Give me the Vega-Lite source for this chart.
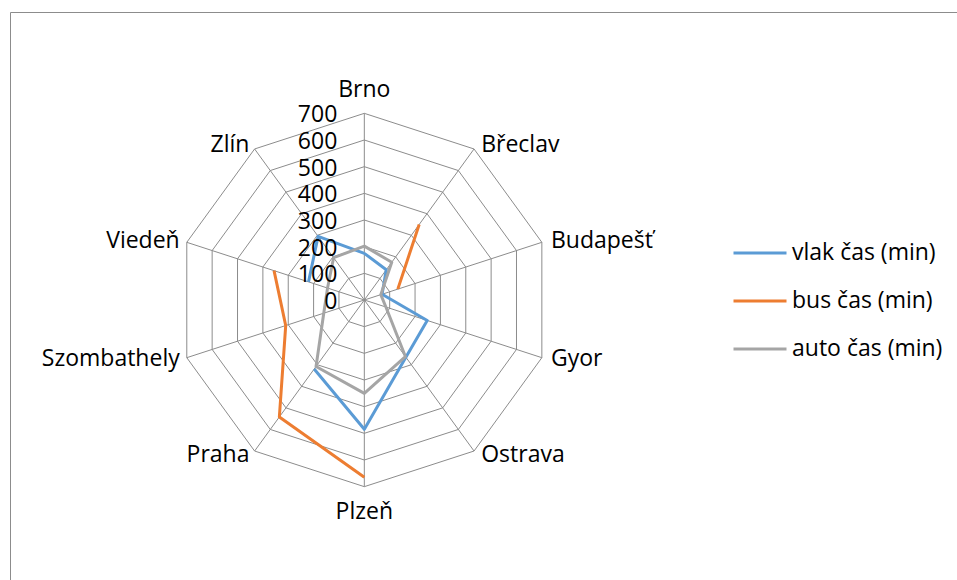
{
  "$schema": "https://vega.github.io/schema/vega-lite/v6.json",
  "width": 949,
  "height": 570,
  "autosize": {"type": "none"},
  "padding": {"left": 10, "top": 12, "right": -2, "bottom": -2},
  "config": {
    "view": {"stroke": "#8c8c8c", "strokeWidth": 1},
    "font": "Open Sans",
    "text": {"font": "Open Sans", "fontSize": 23, "color": "#000000"}
  },
  "datasets": {
    "times": [
      {"city": "Brno", "vlak čas (min)": 175, "bus čas (min)": null, "auto čas (min)": 202},
      {"city": "Břeclav", "vlak čas (min)": 140, "bus čas (min)": 350, "auto čas (min)": 175},
      {"city": "Budapešť", "vlak čas (min)": 70, "bus čas (min)": 132, "auto čas (min)": 65},
      {"city": "Gyor", "vlak čas (min)": 248, "bus čas (min)": null, "auto čas (min)": 85},
      {"city": "Ostrava", "vlak čas (min)": 265, "bus čas (min)": null, "auto čas (min)": 262},
      {"city": "Plzeň", "vlak čas (min)": 485, "bus čas (min)": 665, "auto čas (min)": 350},
      {"city": "Praha", "vlak čas (min)": 320, "bus čas (min)": 542, "auto čas (min)": 308},
      {"city": "Szombathely", "vlak čas (min)": null, "bus čas (min)": 310, "auto čas (min)": 160},
      {"city": "Viedeň", "vlak čas (min)": 220, "bus čas (min)": 356, "auto čas (min)": 145},
      {"city": "Zlín", "vlak čas (min)": 295, "bus čas (min)": null, "auto čas (min)": 196}
    ],
    "ticks": [
      {"level": 0}, {"level": 100}, {"level": 200}, {"level": 300},
      {"level": 400}, {"level": 500}, {"level": 600}, {"level": 700}
    ]
  },
  "layer": [
    {
      "data": {"name": "ticks"},
      "transform": [
        {"filter": "datum.level > 0"},
        {"calculate": "[0,1,2,3,4,5,6,7,8,9,10]", "as": "ks"},
        {"flatten": ["ks"], "as": ["k"]},
        {"calculate": "datum.level * sin(datum.k * PI / 5)", "as": "gx"},
        {"calculate": "datum.level * cos(datum.k * PI / 5)", "as": "gy"}
      ],
      "mark": {"type": "line", "color": "#8c8c8c", "strokeWidth": 1},
      "encoding": {
        "x": {"field": "gx", "type": "quantitative", "scale": {"domain": [-1328.7, 2230.0], "nice": false, "zero": false}, "axis": null},
        "y": {"field": "gy", "type": "quantitative", "scale": {"domain": [-1057.5, 1080], "nice": false, "zero": false}, "axis": null},
        "detail": {"field": "level"},
        "order": {"field": "k", "type": "quantitative"}
      }
    },
    {
      "data": {"name": "times"},
      "transform": [
        {"calculate": "indexof(['Brno','Břeclav','Budapešť','Gyor','Ostrava','Plzeň','Praha','Szombathely','Viedeň','Zlín'], datum.city) * PI / 5", "as": "ang"},
        {"calculate": "0", "as": "z"},
        {"calculate": "700 * sin(datum.ang)", "as": "sx"},
        {"calculate": "700 * cos(datum.ang)", "as": "sy"}
      ],
      "mark": {"type": "rule", "color": "#8c8c8c", "strokeWidth": 1},
      "encoding": {
        "x": {"field": "z", "type": "quantitative", "scale": {"domain": [-1328.7, 2230.0], "nice": false, "zero": false}, "axis": null},
        "y": {"field": "z", "type": "quantitative", "scale": {"domain": [-1057.5, 1080], "nice": false, "zero": false}, "axis": null},
        "x2": {"field": "sx"},
        "y2": {"field": "sy"}
      }
    },
    {
      "data": {"name": "times"},
      "transform": [
        {"fold": ["vlak čas (min)", "bus čas (min)", "auto čas (min)"], "as": ["series", "value"]},
        {"calculate": "indexof(['Brno','Břeclav','Budapešť','Gyor','Ostrava','Plzeň','Praha','Szombathely','Viedeň','Zlín'], datum.city)", "as": "idx"},
        {"calculate": "datum.idx === 0 ? [0, 10] : [datum.idx]", "as": "ks"},
        {"flatten": ["ks"], "as": ["k"]},
        {"calculate": "isValid(datum.value) ? datum.value * sin(datum.k * PI / 5) : null", "as": "px"},
        {"calculate": "isValid(datum.value) ? datum.value * cos(datum.k * PI / 5) : null", "as": "py"}
      ],
      "mark": {"type": "line", "strokeWidth": 3, "invalid": "break-paths-show-domains", "strokeJoin": "round"},
      "encoding": {
        "x": {"field": "px", "type": "quantitative", "scale": {"domain": [-1328.7, 2230.0], "nice": false, "zero": false}, "axis": null},
        "y": {"field": "py", "type": "quantitative", "scale": {"domain": [-1057.5, 1080], "nice": false, "zero": false}, "axis": null},
        "order": {"field": "k", "type": "quantitative"},
        "color": {
          "field": "series",
          "type": "nominal",
          "scale": {"domain": ["vlak čas (min)", "bus čas (min)", "auto čas (min)"], "range": ["#5B9BD5", "#ED7D31", "#A5A5A5"]},
          "legend": {
            "title": null,
            "orient": "none",
            "legendX": 722,
            "legendY": 213,
            "padding": 0,
            "symbolType": "stroke",
            "symbolSize": 2809,
            "symbolStrokeWidth": 3,
            "labelFont": "Open Sans",
            "labelFontSize": 23,
            "labelColor": "#000000",
            "labelOffset": 4,
            "rowPadding": 8
          }
        }
      }
    },
    {
      "data": {"name": "ticks"},
      "transform": [{"calculate": "0", "as": "z"}],
      "mark": {"type": "text", "align": "right", "baseline": "middle", "dx": -27, "dy": 2},
      "encoding": {
        "x": {"field": "z", "type": "quantitative", "scale": {"domain": [-1328.7, 2230.0], "nice": false, "zero": false}, "axis": null},
        "y": {"field": "level", "type": "quantitative", "scale": {"domain": [-1057.5, 1080], "nice": false, "zero": false}, "axis": null},
        "text": {"field": "level", "type": "quantitative", "format": "d"}
      }
    },
    {
      "data": {"name": "times"},
      "transform": [
        {"filter": "datum.city === 'Brno'"},
        {"calculate": "0", "as": "lx"},
        {"calculate": "700", "as": "ly"}
      ],
      "mark": {"type": "text", "align": "center", "baseline": "alphabetic", "dy": -16},
      "encoding": {
        "x": {"field": "lx", "type": "quantitative", "scale": {"domain": [-1328.7, 2230.0], "nice": false, "zero": false}, "axis": null},
        "y": {"field": "ly", "type": "quantitative", "scale": {"domain": [-1057.5, 1080], "nice": false, "zero": false}, "axis": null},
        "text": {"field": "city"}
      }
    },
    {
      "data": {"name": "times"},
      "transform": [
        {"filter": "datum.city === 'Plzeň'"},
        {"calculate": "0", "as": "lx"},
        {"calculate": "-700", "as": "ly"}
      ],
      "mark": {"type": "text", "align": "center", "baseline": "alphabetic", "dy": 32},
      "encoding": {
        "x": {"field": "lx", "type": "quantitative", "scale": {"domain": [-1328.7, 2230.0], "nice": false, "zero": false}, "axis": null},
        "y": {"field": "ly", "type": "quantitative", "scale": {"domain": [-1057.5, 1080], "nice": false, "zero": false}, "axis": null},
        "text": {"field": "city"}
      }
    },
    {
      "data": {"name": "times"},
      "transform": [
        {"calculate": "indexof(['Brno','Břeclav','Budapešť','Gyor','Ostrava','Plzeň','Praha','Szombathely','Viedeň','Zlín'], datum.city)", "as": "idx"},
        {"filter": "datum.idx >= 1 && datum.idx <= 4"},
        {"calculate": "720 * sin(datum.idx * PI / 5)", "as": "lx"},
        {"calculate": "720 * cos(datum.idx * PI / 5)", "as": "ly"}
      ],
      "mark": {"type": "text", "align": "left", "baseline": "middle", "dx": 4},
      "encoding": {
        "x": {"field": "lx", "type": "quantitative", "scale": {"domain": [-1328.7, 2230.0], "nice": false, "zero": false}, "axis": null},
        "y": {"field": "ly", "type": "quantitative", "scale": {"domain": [-1057.5, 1080], "nice": false, "zero": false}, "axis": null},
        "text": {"field": "city"}
      }
    },
    {
      "data": {"name": "times"},
      "transform": [
        {"calculate": "indexof(['Brno','Břeclav','Budapešť','Gyor','Ostrava','Plzeň','Praha','Szombathely','Viedeň','Zlín'], datum.city)", "as": "idx"},
        {"filter": "datum.idx >= 6"},
        {"calculate": "720 * sin(datum.idx * PI / 5)", "as": "lx"},
        {"calculate": "720 * cos(datum.idx * PI / 5)", "as": "ly"}
      ],
      "mark": {"type": "text", "align": "right", "baseline": "middle", "dx": -2},
      "encoding": {
        "x": {"field": "lx", "type": "quantitative", "scale": {"domain": [-1328.7, 2230.0], "nice": false, "zero": false}, "axis": null},
        "y": {"field": "ly", "type": "quantitative", "scale": {"domain": [-1057.5, 1080], "nice": false, "zero": false}, "axis": null},
        "text": {"field": "city"}
      }
    }
  ]
}
